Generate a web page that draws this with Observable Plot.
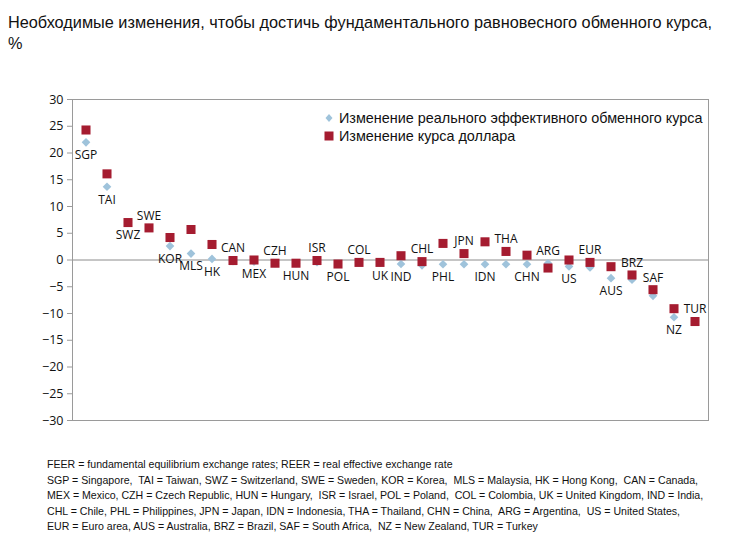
<!DOCTYPE html>
<html><head><meta charset="utf-8">
<script src="https://cdn.jsdelivr.net/npm/d3@7"></script>
<script src="https://cdn.jsdelivr.net/npm/@observablehq/plot@0.6"></script>
<style>
body{margin:0;background:#fff;}
#wrap{position:relative;width:755px;height:533px;overflow:hidden;}
#title{position:absolute;left:8px;top:12px;font-family:"Liberation Sans",Arial,sans-serif;font-size:16.3px;line-height:21px;color:#111;white-space:nowrap;}
#chart{position:absolute;left:0;top:80px;}
#legend{position:absolute;left:324px;top:109px;font-family:"Liberation Sans",Arial,sans-serif;font-size:14.4px;line-height:18px;color:#111;}
#legend div{display:flex;align-items:center;white-space:nowrap;}
#legend svg{margin-right:5px;}
#notes{position:absolute;left:47px;top:457px;font-family:"Liberation Sans",Arial,sans-serif;font-size:10.6px;line-height:15.5px;color:#111;white-space:pre;}
</style></head>
<body><div id="wrap">
<div id="title">Необходимые изменения, чтобы достичь фундаментального равновесного обменного курса,<br>%</div>
<div id="chart"></div>
<div id="legend"></div>
<div id="notes"></div>
</div>
<script>
const countries = ["SGP","TAI","SWZ","SWE","KOR","MLS","HK","CAN","MEX","CZH","HUN","ISR","POL","COL","UK","IND","CHL","PHL","JPN","IDN","THA","CHN","ARG","US","EUR","AUS","BRZ","SAF","NZ","TUR"];
const reer = [22.0,13.7,7.0,6.0,2.6,1.2,0.2,-0.2,-0.3,-0.6,-0.6,-0.4,-0.75,-0.45,-0.5,-0.75,-1.0,-0.8,-0.8,-0.8,-0.8,-0.8,-0.6,-1.2,-1.4,-3.4,-3.7,-6.7,-10.7,-11.5];
const usd = [24.3,16.1,7.0,6.0,4.2,5.7,2.9,-0.1,0.0,-0.6,-0.6,-0.1,-0.75,-0.45,-0.45,0.8,-0.3,3.1,1.2,3.4,1.6,0.9,-1.5,0.0,-0.45,-1.25,-2.8,-5.55,-9.1,-11.5];
const labelSide = ["below","below","below","above","below","below","below","above","below","above","below","above","below","above","below","below","above","below","above","below","above","below","above","below","above","below","above","above","below","above"];
const yTicks = [-30,-25,-20,-15,-10,-5,0,5,10,15,20,25,30];
const seriesNames = ["Изменение реального эффективного обменного курса","Изменение курса доллара"];
const notes = [
"FEER = fundamental equilibrium exchange rates; REER = real effective exchange rate",
"SGP = Singapore,  TAI = Taiwan, SWZ = Switzerland, SWE = Sweden, KOR = Korea,  MLS = Malaysia, HK = Hong Kong,  CAN = Canada,",
"MEX = Mexico, CZH = Czech Republic, HUN = Hungary,  ISR = Israel, POL = Poland,  COL = Colombia, UK = United Kingdom, IND = India,",
"CHL = Chile, PHL = Philippines, JPN = Japan, IDN = Indonesia, THA = Thailand, CHN = China,  ARG = Argentina,  US = United States,",
"EUR = Euro area, AUS = Australia, BRZ = Brazil, SAF = South Africa,  NZ = New Zealand, TUR = Turkey"
];

const blue = "#9fc3db", red = "#a51c30";
const rows = countries.map((c,i)=>({c, reer:reer[i], usd:usd[i], side:labelSide[i],
  lo:Math.min(reer[i],usd[i]), hi:Math.max(reer[i],usd[i])}));

const chart = Plot.plot({
  width:755, height:360,
  marginTop:19, marginBottom:20, marginLeft:72, marginRight:47,
  style:{fontFamily:"'Open Sans',sans-serif", fontSize:"12px", color:"#111", background:"transparent"},
  x:{type:"band", domain:countries, padding:0, axis:null},
  y:{domain:[-30,30], axis:null},
  marks:[
    Plot.ruleY([0],{stroke:"#8c8c8c", strokeWidth:1}),
    Plot.frame({stroke:"#9a9a9a"}),
    Plot.axisY({ticks:yTicks, tickSize:5, tickPadding:4, stroke:"#9a9a9a", fill:"#111", tickFormat:d=>d<0?"\u2212"+(-d):String(d), fontSize:12.5}),
    Plot.dot(rows,{x:"c", y:"reer", symbol:"diamond2", r:3.9, fill:blue, stroke:"none"}),
    Plot.dot(rows,{x:"c", y:"usd", symbol:"square", r:5.1, fill:red, stroke:"none"}),
    Plot.text(rows.filter(d=>d.side==="below"),{x:"c", y:"lo", text:"c", dy:13, fill:"#111", fontSize:12}),
    Plot.text(rows.filter(d=>d.side==="above"),{x:"c", y:"hi", text:"c", dy:-12, fill:"#111", fontSize:12})
  ]
});
document.getElementById("chart").appendChild(chart);

const lg = document.getElementById("legend");
lg.innerHTML = `<div><svg width="10" height="10" viewBox="-5 -5 10 10"><path d="M0,-4L3.5,0L0,4L-3.5,0Z" fill="${blue}"/></svg>${seriesNames[0]}</div>`+
 `<div><svg width="10" height="10" viewBox="-5 -5 10 10"><rect x="-4.5" y="-4.5" width="9" height="9" fill="${red}"/></svg>${seriesNames[1]}</div>`;
document.getElementById("notes").textContent = notes.join("\n");
</script>
</body></html>
